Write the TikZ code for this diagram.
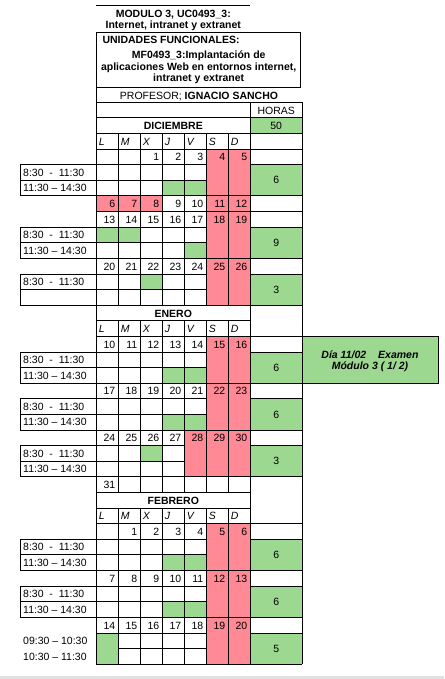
\documentclass[tikz,border=0pt]{standalone}
\usepackage{fontspec}
\setmainfont{Liberation Sans}
\definecolor{redc}{RGB}{255,138,150}
\definecolor{greenc}{RGB}{157,216,145}
\definecolor{edgegray}{RGB}{225,225,225}
\newcommand\colx[1]{(96.3+22*(#1))}
\newcommand\rowy[1]{(102.3+15.61*(#1))}
\newcommand\cellfill[5]{\fill[#1] ({\colx{#2}},{\rowy{#3}}) rectangle ({\colx{#4}},{\rowy{#5}});}
\newcommand\horasfill[2]{\fill[greenc] ({\colx{7}},{\rowy{#1}}) rectangle (302,{\rowy{#2}});}
\begin{document}
\begin{tikzpicture}[x=1pt,y=-1pt,line width=1pt,
  txt/.style={inner sep=0pt,font=\fontsize{10.5}{12}\selectfont},
  numtxt/.style={txt,anchor=base east},
  lettxt/.style={inner sep=0pt,anchor=base west,font=\fontsize{10.5}{12}\selectfont\itshape},
  boldtxt/.style={inner sep=0pt,anchor=base,font=\fontsize{10.5}{12}\selectfont\bfseries},
  timetxt/.style={txt,anchor=base west},
  gridline/.style={draw=black,line width=1pt}]
\useasboundingbox (0,0) rectangle (444,679);
\fill[white] (0,0) rectangle (444,679);
\fill[edgegray] (0,676) rectangle (444,679);
% ---------- fills ----------
\cellfill{redc}{5}{3}{7}{13}
\cellfill{redc}{0}{6}{3}{7}
\cellfill{redc}{5}{15}{7}{24}
\cellfill{redc}{4}{21}{5}{24}
\cellfill{redc}{5}{27}{7}{36}
\cellfill{greenc}{3}{5}{5}{6}
\cellfill{greenc}{0}{8}{2}{9}
\cellfill{greenc}{4}{9}{5}{10}
\cellfill{greenc}{2}{11}{3}{12}
\cellfill{greenc}{3}{17}{5}{18}
\cellfill{greenc}{3}{20}{5}{21}
\cellfill{greenc}{2}{22}{3}{23}
\cellfill{greenc}{3}{29}{5}{30}
\cellfill{greenc}{3}{32}{5}{33}
\cellfill{greenc}{0}{34}{1}{36}
\horasfill{1}{2}
\horasfill{4}{6}
\horasfill{8}{10}
\horasfill{11}{13}
\horasfill{16}{18}
\horasfill{19}{21}
\horasfill{22}{24}
\horasfill{28}{30}
\horasfill{31}{33}
\horasfill{34}{36}
% exam box
\node[draw=black,fill=greenc,line width=1pt,minimum width=136pt,minimum height=46.8pt,anchor=north west,inner sep=0pt] (exam) at (302,{\rowy{15}}) {};
% ---------- header ----------
\draw[gridline] (96.3,5.7) -- (250.3,5.7);
\draw[gridline] (96.3,32.3) rectangle (300,87.3);
\node[boldtxt] (t1) at (173.3,17.4) {MODULO 3, UC0493\_3:};
\node[boldtxt] (t2) at (173.3,28.8) {Internet, intranet y extranet};
\node[boldtxt,anchor=base west] (t3) at (102,43.3) {UNIDADES FUNCIONALES:};
\node[boldtxt] (t4) at (198.7,58.2) {MF0493\_3:Implantación de};
\node[boldtxt] (t5) at (198.7,70.2) {aplicaciones Web en entornos internet,};
\node[boldtxt] (t6) at (198.7,82) {intranet y extranet};
\node[txt,anchor=base] (t7) at (199,99.3) {PROFESOR; \textbf{IGNACIO SANCHO}};
% ---------- grid lines ----------
\foreach \r in {0,1,2,3,6,7,10,13,14,15,18,21,24,25,26,27,30,33,36}
  \draw[gridline] ({\colx{0}},{\rowy{\r}}) -- ({\colx{7}},{\rowy{\r}});
\foreach \r in {4,5,8,9,11,12,16,17,19,20,28,29,31,32,34}
  \draw[gridline] ({\colx{0}},{\rowy{\r}}) -- ({\colx{5}},{\rowy{\r}});
\foreach \r in {22,23}
  \draw[gridline] ({\colx{0}},{\rowy{\r}}) -- ({\colx{4}},{\rowy{\r}});
\draw[gridline] ({\colx{1}},{\rowy{35}}) -- ({\colx{5}},{\rowy{35}});
\foreach \r in {0,1,2,3,4,6,7,8,10,11,13,15,16,18,19,21,22,24,27,28,30,31,33,34,36}
  \draw[gridline] ({\colx{7}},{\rowy{\r}}) -- (302,{\rowy{\r}});
\foreach \c in {1,...,6}{
  \draw[gridline] ({\colx{\c}},{\rowy{2}}) -- ({\colx{\c}},{\rowy{13}});
  \draw[gridline] ({\colx{\c}},{\rowy{14}}) -- ({\colx{\c}},{\rowy{25}});
  \draw[gridline] ({\colx{\c}},{\rowy{26}}) -- ({\colx{\c}},{\rowy{36}});
}
\draw[gridline] ({\colx{0}},87.3) -- ({\colx{0}},{\rowy{36}});
\draw[gridline] ({\colx{7}},{\rowy{0}}) -- ({\colx{7}},{\rowy{36}});
\draw[gridline] (302,{\rowy{0}}) -- (302,{\rowy{36}});
% label boxes
\foreach \p in {4,8,11,16,19,22,28,31}{
  \draw[gridline] (20.7,{\rowy{\p}}) rectangle ({\colx{0}},{\rowy{\p+2}});
  \draw[gridline] (20.7,{\rowy{\p+1}}) -- ({\colx{0}},{\rowy{\p+1}});
}
% ---------- texts ----------
\node[txt,anchor=base] (horas) at (276.2,{\rowy{1}-3.6}) {HORAS};
\node[txt,anchor=base] (h50) at (276.2,{\rowy{2}-3.8}) {50};
\foreach \a/\b/\v in {4/6/6,8/10/9,11/13/3,16/18/6,19/21/6,22/24/3,28/30/6,31/33/6,34/36/5}
  \node[txt] (hv\a) at (276.2,{(\rowy{\a}+\rowy{\b})/2}) {\v};
\node[boldtxt] (m1) at (173.3,{\rowy{2}-3.8}) {DICIEMBRE};
\node[boldtxt] (m2) at (173.3,{\rowy{14}-3.8}) {ENERO};
\node[boldtxt] (m3) at (173.3,{\rowy{26}-3.8}) {FEBRERO};
\foreach \r in {2,14,26}
  \foreach \c/\l in {0/L,1/M,2/X,3/J,4/V,5/S,6/D}
    \node[lettxt] (l\r-\c) at ({\colx{\c}+2},{\rowy{\r+1}-3.9}) {\l};
\foreach \r/\c/\n in {3/2/1,3/3/2,3/4/3,3/5/4,3/6/5,
  6/0/6,6/1/7,6/2/8,6/3/9,6/4/10,6/5/11,6/6/12,
  7/0/13,7/1/14,7/2/15,7/3/16,7/4/17,7/5/18,7/6/19,
  10/0/20,10/1/21,10/2/22,10/3/23,10/4/24,10/5/25,10/6/26,
  15/0/10,15/1/11,15/2/12,15/3/13,15/4/14,15/5/15,15/6/16,
  18/0/17,18/1/18,18/2/19,18/3/20,18/4/21,18/5/22,18/6/23,
  21/0/24,21/1/25,21/2/26,21/3/27,21/4/28,21/5/29,21/6/30,
  24/0/31,
  27/1/1,27/2/2,27/3/3,27/4/4,27/5/5,27/6/6,
  30/0/7,30/1/8,30/2/9,30/3/10,30/4/11,30/5/12,30/6/13,
  33/0/14,33/1/15,33/2/16,33/3/17,33/4/18,33/5/19,33/6/20}
  \node[numtxt] (n\r-\c) at ({\colx{\c+1}-2.6},{\rowy{\r+1}-3.9}) {\n};
\foreach \p in {4,8,11,16,19,22,28,31}
  \node[timetxt] (ta\p) at (22.7,{\rowy{\p+1}-4.2}) {8:30\ \ -\ \ 11:30};
\foreach \p in {4,8,16,19,22,28,31}
  \node[timetxt] (tb\p) at (22.7,{\rowy{\p+2}-4.2}) {11:30 – 14:30};
\node[timetxt] (tc1) at (22.7,{\rowy{35}-4.2}) {09:30 – 10:30};
\node[timetxt] (tc2) at (22.7,{\rowy{36}-4.2}) {10:30 – 11:30};
\node[boldtxt,font=\fontsize{10.5}{12}\selectfont\bfseries\itshape] (ex1) at (370,358) {Día 11/02\hspace{12pt}Examen};
\node[boldtxt,font=\fontsize{10.5}{12}\selectfont\bfseries\itshape] (ex2) at (370,369.5) {Módulo 3 ( 1/ 2)};
\end{tikzpicture}
\end{document}
